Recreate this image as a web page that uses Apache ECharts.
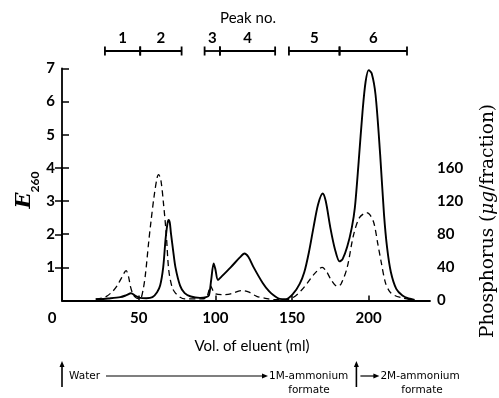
<!DOCTYPE html>
<html>
<head>
<meta charset="utf-8">
<script src="https://cdn.jsdelivr.net/npm/echarts@6/dist/echarts.min.js"></script>
<style>html,body{margin:0;padding:0;background:#fff}#c{width:499px;height:398px}</style>
</head>
<body>
<div id="c"></div>
<script>
// ---- data ----
// E260 (solid line): volume of eluent (ml) and extinction
const volE = [22, 30, 38, 42, 45, 48, 51, 55, 59, 62, 64, 66, 67.5, 68.7, 69.5, 70.3, 71, 72.5, 74, 77, 80, 84, 90, 94, 95.8, 97.3, 98.9, 100, 101.7, 104, 110, 116, 119, 121.5, 125, 131, 135, 138, 142, 146, 151, 155, 158, 161, 164, 167, 170, 172, 175, 178, 181, 183, 186, 189, 191, 193.5, 196, 198, 200, 202, 204.5, 207.5, 210, 212, 214.5, 218, 222, 226, 230];
const e260 = [0.03, 0.06, 0.1, 0.16, 0.22, 0.14, 0.08, 0.07, 0.1, 0.25, 0.45, 1.0, 1.83, 2.3, 2.43, 2.35, 2.05, 1.5, 1.0, 0.45, 0.22, 0.12, 0.08, 0.1, 0.15, 0.62, 1.12, 0.95, 0.62, 0.72, 1.0, 1.3, 1.42, 1.32, 1.0, 0.52, 0.28, 0.16, 0.05, 0.04, 0.22, 0.5, 0.85, 1.45, 2.2, 2.9, 3.23, 3.0, 2.2, 1.55, 1.18, 1.25, 1.62, 2.2, 2.8, 4.2, 5.7, 6.6, 6.95, 6.85, 6.2, 4.4, 2.6, 1.6, 0.85, 0.35, 0.15, 0.06, 0.02];
// Phosphorus (dashed line): volume of eluent (ml) and ug/fraction
const volP = [22, 26, 29, 33, 36, 39, 41.8, 43.5, 44.5, 46.4, 48.5, 51, 53, 54.5, 56.5, 58, 60, 62, 63, 64.5, 66.2, 68, 69.6, 71.8, 74, 77, 80, 90, 94, 95.5, 96.8, 98.5, 100.2, 105, 110, 117, 122, 127, 132, 138, 146, 151, 156, 160, 165, 169.7, 172.5, 175.5, 179.5, 182, 186, 190, 194, 198.7, 201, 203.5, 206, 208, 211, 214, 217, 222, 227];
const phosphorus = [2, 3, 5, 11, 18, 28, 36, 28, 18, 7, 3, 2, 14, 33, 70, 95, 125, 148, 152, 145, 117, 80, 37, 16, 9, 4, 2, 2, 3, 10, 18, 12, 8, 7, 8, 12, 10, 5, 3, 1, 1, 4, 12, 21, 33, 40, 35, 25, 17, 20, 40, 78, 100, 106, 103, 93, 68, 48, 21, 10, 6, 3, 1];
// Peak ranges
const peakNo = ['1', '2', '3', '4', '5', '6'];
const peakStart = [28, 51, 93, 103, 148, 181];
const peakEnd = [51, 78, 103, 139, 181, 225];
// Tick labels
const xTickVals = [50, 100, 150, 200];
const eTickVals = [1, 2, 3, 4, 5, 6, 7];
const pTickVals = [0, 40, 80, 120, 160];
const originLabel = '0';
// Eluent changes (ml)
const solventChangeVol = [0, 192];
const solventLabels = ['Water', '1M-ammonium', 'formate', '2M-ammonium', 'formate'];

const FONT = 'Lato';
const chart = echarts.init(document.getElementById('c'));
const zip = (a, b) => a.map((v, i) => [v, b[i]]);
const axisLineStyle = { color: '#000', width: 1.8 };

const option = {
  animation: false,
  backgroundColor: '#fff',
  grid: [
    { left: 62, right: 69, top: 68.5, height: 232 },
    { left: 62, right: 69, top: 168, height: 132.5 },
    { left: 62, right: 69, top: 41, height: 20 }
  ],
  xAxis: [
    {
      gridIndex: 0, type: 'value', min: 0, max: 240, interval: 50,
      axisLine: { lineStyle: axisLineStyle },
      axisTick: { inside: true, length: 5, lineStyle: { color: '#000', width: 1.5 }, customValues: xTickVals },
      axisLabel: { customValues: xTickVals, color: '#000', fontFamily: FONT, fontSize: 15, fontWeight: 'bold', margin: 10 },
      splitLine: { show: false }
    },
    { gridIndex: 1, type: 'value', min: 0, max: 240, show: false },
    { gridIndex: 2, type: 'value', min: 0, max: 240, show: false }
  ],
  yAxis: [
    {
      gridIndex: 0, type: 'value', min: 0, max: 7, interval: 1,
      axisLine: { show: true, lineStyle: axisLineStyle },
      axisTick: { show: true, inside: true, length: 7, lineStyle: { color: '#000', width: 1.5 }, customValues: eTickVals },
      axisLabel: { customValues: eTickVals, color: '#000', fontFamily: FONT, fontSize: 15, fontWeight: 'bold', margin: 7 },
      splitLine: { show: false }
    },
    {
      gridIndex: 1, type: 'value', position: 'right', min: 0, max: 160, interval: 40,
      axisLine: { show: true, lineStyle: axisLineStyle },
      axisTick: { show: true, inside: true, length: 7, lineStyle: { color: '#000', width: 1.5 }, customValues: [40, 80, 120, 160] },
      axisLabel: { customValues: pTickVals, color: '#000', fontFamily: FONT, fontSize: 15, fontWeight: 'bold', margin: 7 },
      splitLine: { show: false }
    },
    { gridIndex: 2, type: 'value', min: 0, max: 1, show: false }
  ],
  series: [
    {
      type: 'line', xAxisIndex: 0, yAxisIndex: 0, data: zip(volE, e260),
      smooth: 0.3, showSymbol: false,
      lineStyle: { color: '#000', width: 1.9 }, z: 3
    },
    {
      type: 'line', xAxisIndex: 1, yAxisIndex: 1, data: zip(volP, phosphorus),
      smooth: 0.3, showSymbol: false,
      lineStyle: { color: '#000', width: 1.3, type: [6, 4] }, z: 2
    },
    {
      type: 'custom', xAxisIndex: 2, yAxisIndex: 2,
      data: peakStart.map((s, i) => [s, peakEnd[i]]),
      encode: { x: [0, 1] },
      renderItem: function (params, api) {
        const s = api.coord([api.value(0), 0.5]);
        const e = api.coord([api.value(1), 0.5]);
        const st = { stroke: '#000', lineWidth: 1.8 };
        return {
          type: 'group',
          children: [
            { type: 'line', shape: { x1: s[0], y1: s[1], x2: e[0], y2: e[1] }, style: st },
            { type: 'line', shape: { x1: s[0], y1: s[1] - 4.5, x2: s[0], y2: s[1] + 4.5 }, style: st },
            { type: 'line', shape: { x1: e[0], y1: e[1] - 4.5, x2: e[0], y2: e[1] + 4.5 }, style: st },
            { type: 'text', style: { text: peakNo[params.dataIndex], x: (s[0] + e[0]) / 2, y: s[1] - 13,
              align: 'center', verticalAlign: 'middle', font: 'bold 15px ' + FONT, fill: '#000' } }
          ]
        };
      }
    }
  ]
};
chart.setOption(option);

function px(v) { return chart.convertToPixel({ xAxisIndex: 0 }, v); }
const ax0 = px(solventChangeVol[0]);
const ax1 = px(solventChangeVol[1]);
const smallFont = '10.5px "DejaVu Sans"';
function arrowUp(x, yBottom, yTop) {
  return [
    { type: 'line', shape: { x1: x, y1: yBottom, x2: x, y2: yTop + 4 }, style: { stroke: '#000', lineWidth: 1.6 } },
    { type: 'polygon', shape: { points: [[x, yTop], [x - 2.5, yTop + 6], [x + 2.5, yTop + 6]] }, style: { fill: '#000' } }
  ];
}
function arrowRight(x1, x2, y) {
  return [
    { type: 'line', shape: { x1: x1, y1: y, x2: x2 - 4, y2: y }, style: { stroke: '#000', lineWidth: 1.2 } },
    { type: 'polygon', shape: { points: [[x2, y], [x2 - 6, y - 2.5], [x2 - 6, y + 2.5]] }, style: { fill: '#000' } }
  ];
}
const graphics = [
  { type: 'text', style: { text: 'Peak no.', x: 248, y: 18, align: 'center', verticalAlign: 'middle', font: '15px ' + FONT, fill: '#000' } },
  { type: 'text', style: { text: originLabel, x: 52, y: 318, align: 'center', verticalAlign: 'middle', font: 'bold 15px ' + FONT, fill: '#000' } },
  { type: 'text', style: { text: 'Vol. of eluent (ml)', x: 252, y: 346, align: 'center', verticalAlign: 'middle', font: '15px ' + FONT, fill: '#000' } },
  { type: 'text', x: 23, y: 190, rotation: Math.PI / 2,
    style: { text: '{e|E}{s|260}', align: 'center', verticalAlign: 'middle',
      rich: { e: { fontFamily: 'DejaVu Serif', fontStyle: 'italic', fontWeight: 'bold', fontSize: 21, lineHeight: 24, verticalAlign: 'bottom' },
              s: { fontFamily: FONT, fontWeight: 'bold', fontSize: 12, lineHeight: 24, verticalAlign: 'bottom', padding: [0, 0, -6, 0] } } } },
  { type: 'text', x: 488, y: 221, rotation: Math.PI / 2,
    style: { text: '{a|Phosphorus (}{m|μg}{a|/fraction)}', align: 'center', verticalAlign: 'middle',
      rich: { a: { fontFamily: 'DejaVu Serif', fontSize: 18.5 }, m: { fontFamily: 'DejaVu Serif', fontStyle: 'italic', fontSize: 18.5 } } } },
  ...arrowUp(ax0, 387, 361),
  { type: 'text', style: { text: solventLabels[0], x: ax0 + 7, y: 376, align: 'left', verticalAlign: 'middle', font: smallFont, fill: '#000' } },
  ...arrowRight(ax0 + 44, 268, 376),
  { type: 'text', style: { text: solventLabels[1], x: 269, y: 376, align: 'left', verticalAlign: 'middle', font: smallFont, fill: '#000' } },
  { type: 'text', style: { text: solventLabels[2], x: 309, y: 390, align: 'center', verticalAlign: 'middle', font: smallFont, fill: '#000' } },
  ...arrowUp(ax1, 387, 361),
  ...arrowRight(ax1 + 4, ax1 + 23, 376),
  { type: 'text', style: { text: solventLabels[3], x: ax1 + 24, y: 376, align: 'left', verticalAlign: 'middle', font: smallFont, fill: '#000' } },
  { type: 'text', style: { text: solventLabels[4], x: 422, y: 390, align: 'center', verticalAlign: 'middle', font: smallFont, fill: '#000' } }
];
chart.setOption({ graphic: graphics });
</script>
</body>
</html>
